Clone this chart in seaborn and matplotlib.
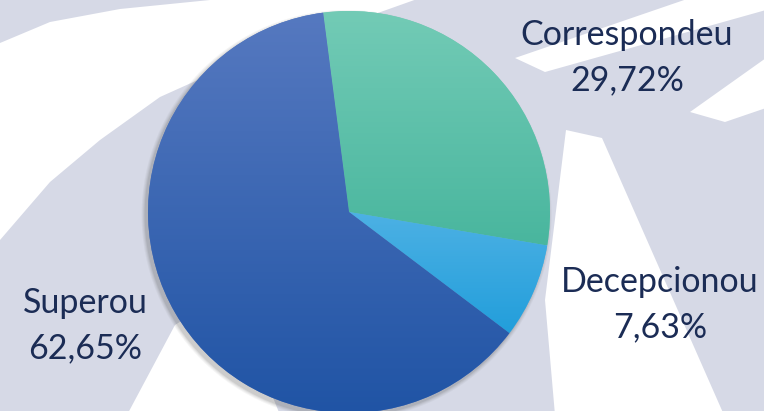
import numpy as np
import matplotlib
matplotlib.use("Agg")
import matplotlib.pyplot as plt
import seaborn as sns
from matplotlib.colors import LinearSegmentedColormap
from matplotlib.patches import Polygon, Circle

# data
categories = ["Correspondeu", "Decepcionou", "Superou"]
shares = [29.72, 7.63, 62.65]
top_colors = ["#73cbb6", "#4db1e4", "#5679c0"]
bottom_colors = ["#49b69e", "#229edb", "#2054a5"]

sns.set_theme(style="white")
plt.rcParams['font.family'] = ['Lato', 'DejaVu Sans']

W, H = 764, 411
fig = plt.figure(figsize=(W / 100, H / 100), dpi=100)
bg = "#d6d9e6"
fig.patch.set_facecolor(bg)
ax = fig.add_axes([0, 0, 1, 1])
ax.set_facecolor(bg)

cx, cy, R = 349, 212, 201


def px(x, y):
    return ((x - cx) / R, (cy - y) / R)


# white background bands (decoration)
bands = [
    [(0, 43), (50, 22), (120, 9), (230, -2), (420, -2), (330, 30), (220, 70),
     (160, 97), (100, 140), (50, 182), (0, 240)],
    [(127, 415), (175, 325), (230, 290), (280, 415)],
    [(515, 58), (690, -2), (766, -2), (766, 10), (545, 72)],
    [(690, 112), (766, 58), (766, 108), (725, 122)],
    [(566, 130), (602, 138), (724, 415), (555, 415), (545, 300)],
]
for b in bands:
    ax.add_patch(Polygon([px(x, y) for x, y in b], closed=True,
                         facecolor="white", edgecolor="none", zorder=0))

# soft shadow
for i, a in enumerate([0.05, 0.06, 0.08, 0.1]):
    ax.add_patch(Circle((-0.012, -0.015), 1.0 + 0.02 * (4 - i) / 4,
                        facecolor="#404040", alpha=a, edgecolor="none", zorder=1))

wedges, _ = ax.pie(shares, startangle=97.4, counterclock=False,
                   radius=1.0, center=(0, 0), colors=top_colors,
                   wedgeprops=dict(linewidth=0, zorder=2))
ax.set_xlim(px(0, 0)[0], px(W, 0)[0])
ax.set_ylim(px(0, H)[1], px(0, 0)[1])
ax.set_aspect("equal")
ax.axis("off")

grad = np.linspace(0, 1, 256).reshape(-1, 1)
for w, c0, c1 in zip(wedges, top_colors, bottom_colors):
    ext = w.get_path().get_extents()
    cmap = LinearSegmentedColormap.from_list("g", [c0, c1])
    im = ax.imshow(grad, cmap=cmap, aspect="auto", origin="upper",
                   extent=[ext.x0, ext.x1, ext.y0, ext.y1], zorder=3)
    im.set_clip_path(w)

# labels
label_pos = [(627, 45), (660, 292), (85, 313)]
txt_color = "#1b2c55"
for name, v, (x, y) in zip(categories, shares, label_pos):
    pct = f"{v:.2f}".replace(".", ",") + "%"
    ax.text(x / W, 1 - y / H, name, transform=ax.transAxes, ha="center",
            va="baseline", fontsize=24.5, color=txt_color, zorder=5)
    ax.text(x / W, 1 - (y + 45) / H, pct, transform=ax.transAxes, ha="center",
            va="baseline", fontsize=24.5, color=txt_color, zorder=5)

fig.savefig("out.png", dpi=100, facecolor=fig.get_facecolor())
